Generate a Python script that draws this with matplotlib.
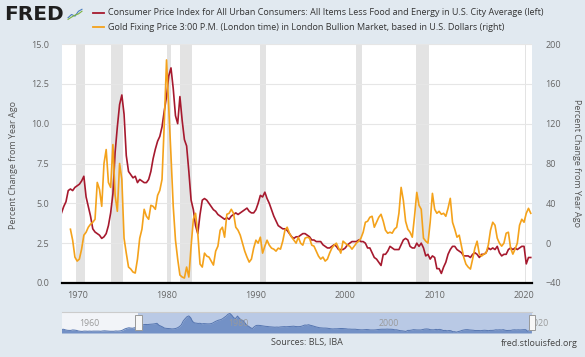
import matplotlib.pyplot as plt
import pandas as pd
from matplotlib.lines import Line2D
from matplotlib.patches import Rectangle

# core CPI, percent change from year ago, quarterly from 1968-04
cpi_core = [4.4, 4.8, 5.1,
            5.8, 5.9, 5.8, 6.0,
            6.1, 6.2, 6.4, 6.7,
            5.4, 4.8, 4.2, 3.4,
            3.2, 3.1, 3.0, 2.8,
            2.9, 3.1, 3.6, 4.4,
            5.6, 8.2, 9.8, 11.2,
            11.8, 10.6, 8.0, 7.0,
            6.8, 6.6, 6.7, 6.3,
            6.5, 6.4, 6.3, 6.3,
            6.5, 7.0, 7.8, 8.4,
            8.9, 9.2, 9.8, 10.8,
            11.7, 13.0, 13.5, 12.2,
            10.5, 10.0, 11.7, 10.2,
            9.0, 8.6, 7.0, 5.2,
            4.6, 3.6, 3.1, 4.3,
            5.2, 5.3, 5.2, 5.0,
            4.8, 4.6, 4.5, 4.3,
            4.2, 4.1, 4.0, 4.1,
            4.0, 4.2, 4.3, 4.4,
            4.3, 4.4, 4.5, 4.6,
            4.7, 4.5, 4.4, 4.4,
            4.6, 5.0, 5.5, 5.4,
            5.7, 5.3, 5.0, 4.6,
            4.2, 3.9, 3.6, 3.5,
            3.4, 3.4, 3.3, 3.1,
            2.9, 2.8, 2.9, 2.9,
            3.0, 3.1, 3.1, 3.0,
            2.9, 2.7, 2.7, 2.6,
            2.6, 2.6, 2.4, 2.3,
            2.2, 2.2, 2.3, 2.4,
            2.3, 2.1, 2.1, 2.1,
            2.2, 2.4, 2.5, 2.6,
            2.6, 2.6, 2.7, 2.6,
            2.6, 2.5, 2.2, 2.2,
            1.9, 1.6, 1.5, 1.3,
            1.1, 1.8, 1.8, 2.0,
            2.3, 2.2, 2.1, 2.1,
            2.1, 2.4, 2.7, 2.8,
            2.7, 2.3, 2.2, 2.2,
            2.5, 2.3, 2.5, 2.2,
            1.7, 1.8, 1.5, 1.7,
            1.6, 0.9, 0.9, 0.6,
            1.0, 1.3, 1.8, 2.1,
            2.3, 2.3, 2.1, 2.0,
            1.9, 1.7, 1.7, 1.7,
            1.6, 1.8, 1.9, 1.8,
            1.6, 1.8, 1.8, 1.9,
            2.2, 2.1, 2.2, 2.1,
            2.3, 1.9, 1.7, 1.8,
            1.8, 2.1, 2.2, 2.1,
            2.2, 2.1, 2.2, 2.3,
            2.3, 1.2, 1.6, 1.6]

# gold fixing price 3pm London, percent change from year ago, quarterly from 1969-04
gold_pct = [14, 3, -14,
            -18, -16, -6, 8,
            11, 16, 19, 21,
            24, 61, 54, 37,
            80, 94, 61, 56,
            99, 48, 32, 80,
            64, 5, -10, -24,
            -26, -29, -30, -16,
            5, 14, 34, 27,
            24, 38, 37, 34,
            48, 53, 64, 120,
            184, 136, 88, 37,
            3, -16, -32, -34,
            -35, -24, -34, -3,
            24, 30, 10, -21,
            -24, -10, -13, -14,
            -18, -22, -8, -3,
            13, 16, 6, 29,
            30, 34, 30, 16,
            13, 8, 0, -8,
            -14, -19, -16, -5,
            3, 0, 6, -10,
            -3, 3, -2, -5,
            -6, -8, -5, -6,
            2, 13, 16, 10,
            6, 3, 0, 6,
            0, -2, 5, 6,
            5, -2, -3, -8,
            -13, -16, -14, -18,
            -16, -10, -5, -2,
            0, -5, -10, 2,
            0, -2, -3, -6,
            -3, 0, 2, 5,
            11, 21, 22, 26,
            27, 16, 21, 26,
            29, 22, 13, 10,
            11, 10, 14, 16,
            30, 56, 43, 22,
            14, 11, 6, 27,
            51, 38, 34, 5,
            2, 0, 21, 50,
            34, 30, 32, 29,
            30, 27, 35, 45,
            21, 14, 6, 8,
            -3, -14, -21, -24,
            -26, -16, -5, 2,
            -11, -13, -11, -10,
            -2, 13, 21, 18,
            5, 0, -3, 0,
            10, 11, -5, -11,
            -6, 0, 18, 24,
            21, 30, 35, 30]

# core CPI 1958-01 .. 1968-01, only in the navigator strip
cpi_core_early = [2.4, 2.6, 2.2, 1.9,
                  1.8, 1.8, 2.1, 2.0,
                  1.8, 1.4, 1.2, 1.1,
                  1.3, 1.3, 1.2, 1.3,
                  1.2, 1.3, 1.3, 1.3,
                  1.3, 1.2, 1.4, 1.5,
                  1.4, 1.3, 1.2, 1.2,
                  1.2, 1.4, 1.3, 1.4,
                  1.6, 2.2, 2.9, 3.3,
                  3.6, 3.4, 3.3, 3.6,
                  3.9]

recessions = [("1969-12-01", "1970-11-01"), ("1973-11-01", "1975-03-01"),
              ("1980-01-01", "1980-07-01"), ("1981-07-01", "1982-11-01"),
              ("1990-07-01", "1991-03-01"), ("2001-03-01", "2001-11-01"),
              ("2007-12-01", "2009-06-01"), ("2020-02-01", "2020-04-01")]

left_ticks = [0, 2.5, 5, 7.5, 10, 12.5, 15]
right_ticks = [-40, 0, 40, 80, 120, 160, 200]
year_ticks = [1970, 1980, 1990, 2000, 2010, 2020]
nav_years = [1960, 1980, 2000, 2020]

legend_labels = ["Consumer Price Index for All Urban Consumers: All Items Less Food and Energy in U.S. City Average (left)",
                 "Gold Fixing Price 3:00 P.M. (London time) in London Bullion Market, based in U.S. Dollars (right)"]

RED = "#a6192e"
ORANGE = "#f4a21b"
BG = "#e1e9f0"
TXT = "#666666"
plt.rcParams['font.family'] = ['Open Sans', 'DejaVu Sans']

cpi_dates = pd.date_range("1968-04-01", periods=len(cpi_core), freq="3MS")
gold_dates = pd.date_range("1969-04-01", periods=len(gold_pct), freq="3MS")
early_dates = pd.date_range("1958-01-01", periods=len(cpi_core_early), freq="3MS")

W, H = 585, 357
fig = plt.figure(figsize=(W / 100, H / 100), dpi=100, facecolor=BG)

# main panel
ax = fig.add_axes([61.5 / W, 1 - 283 / H, 470 / W, 239 / H])
ax.set_facecolor("white")
for a, b in recessions:
    ax.axvspan(pd.Timestamp(a), pd.Timestamp(b), color="#e3e3e3", lw=0, zorder=0)
ax.plot(cpi_dates, cpi_core, color=RED, lw=1.2, zorder=3)
ax.set_ylim(0, 15)
ax.set_yticks(left_ticks)
ax.set_yticklabels([f"{v:.1f}" for v in left_ticks])
ax.grid(axis="y", color="#e6e6e6", lw=0.8)
ax.set_axisbelow(True)
ax.set_xlim(pd.Timestamp("1968-04-01"), pd.Timestamp("2020-11-01"))
ax.set_xticks([pd.Timestamp(f"{y}-01-01") for y in year_ticks])
ax.set_xticklabels([str(y) for y in year_ticks])
for s in ["top", "left", "right"]:
    ax.spines[s].set_visible(False)
ax.spines["bottom"].set_color("black")
ax.spines["bottom"].set_linewidth(1.6)
ax.tick_params(length=0, labelsize=6.5, colors=TXT)
ax.tick_params(axis="y", pad=9)
ax.tick_params(axis="x", pad=6)

ax2 = ax.twinx()
ax2.plot(gold_dates, gold_pct, color=ORANGE, lw=1.2, zorder=4)
ax2.set_ylim(-40, 200)
ax2.set_yticks(right_ticks)
for s in ax2.spines.values():
    s.set_visible(False)
ax2.tick_params(length=0, labelsize=6.5, colors=TXT, pad=10)

fig.text(14 / W, 1 - 165 / H, "Percent Change from Year Ago", rotation=90,
         ha="center", va="center", fontsize=6.5, color="#555555")
fig.text(576 / W, 1 - 163 / H, "Percent Change from Year Ago", rotation=270,
         ha="center", va="center", fontsize=6.5, color="#555555")

# header: logo + legend
fig.text(4 / W, 1 - 14 / H, "FRED", fontsize=14.5, fontweight="bold", family="DejaVu Sans",
         color="#1f1f1f", ha="left", va="center")
icon = fig.add_axes([67 / W, 1 - 21 / H, 16 / W, 13 / H])
icon.set_facecolor("#e9eef4")
icon.plot([0, 1, 2, 3, 4], [1, 2, 1.5, 3, 3.6], color="#4a7dbf", lw=0.8)
icon.plot([0, 1, 2, 3, 4], [0.5, 1.2, 1.8, 2.2, 3.0], color="#7db340", lw=0.8)
icon.set_xlim(-0.3, 4.3)
icon.set_ylim(0, 4)
icon.axis("off")

for i, (lab, col) in enumerate(zip(legend_labels, [RED, ORANGE])):
    y = 1 - (12.5 + 14.5 * i) / H
    fig.add_artist(Line2D([92.5 / W, 104 / W], [y, y], color=col, lw=1.3,
                          transform=fig.transFigure))
    fig.text(108 / W, y, lab, fontsize=6.5, color="#333333", ha="left", va="center")

# navigator strip
nav = fig.add_axes([61.5 / W, 1 - 333 / H, 470.5 / W, 21 / H])
nav.set_facecolor("#f2f4f8")
nav_dates = early_dates.append(cpi_dates)
nav_vals = cpi_core_early + cpi_core
sel0, sel1 = cpi_dates[0], pd.Timestamp("2020-11-01")
nav.axvspan(sel0, sel1, color="#b9c9e5", lw=0, zorder=0)
nav.fill_between(nav_dates, 0, nav_vals, color="#7391c6", lw=0, zorder=1)
nav.plot(nav_dates, nav_vals, color="#5575b0", lw=0.7, zorder=2)
nav.set_xlim(pd.Timestamp("1958-01-01"), pd.Timestamp("2020-11-01"))
nav.set_ylim(0, 14.5)
nav.set_xticks([])
nav.set_yticks([])
for s in ["left", "right", "bottom"]:
    nav.spines[s].set_visible(False)
nav.spines["top"].set_color("#cccccc")
nav.spines["top"].set_linewidth(0.8)
for y in nav_years:
    nav.text(pd.Timestamp(f"{y}-01-01") + pd.Timedelta(days=120), 0.45, str(y),
             transform=nav.get_xaxis_transform(), fontsize=6.3, color="#9a9a9a",
             ha="left", va="center", clip_on=False, zorder=3)
for d in [sel0, sel1]:
    h = Rectangle((d - pd.Timedelta(days=160), 0.15), pd.Timedelta(days=320), 0.7,
                  transform=nav.get_xaxis_transform(), facecolor="#f7f7f7",
                  edgecolor="#999999", lw=0.7, clip_on=False, zorder=5)
    nav.add_patch(h)

fig.text(307 / W, 1 - 343 / H, "Sources: BLS, IBA", fontsize=6.5, color="#444444",
         ha="center", va="center")
fig.text(578 / W, 1 - 343 / H, "fred.stlouisfed.org", fontsize=6.5, color="#444444",
         ha="right", va="center")

fig.savefig("out.png", dpi=100, facecolor=BG)
